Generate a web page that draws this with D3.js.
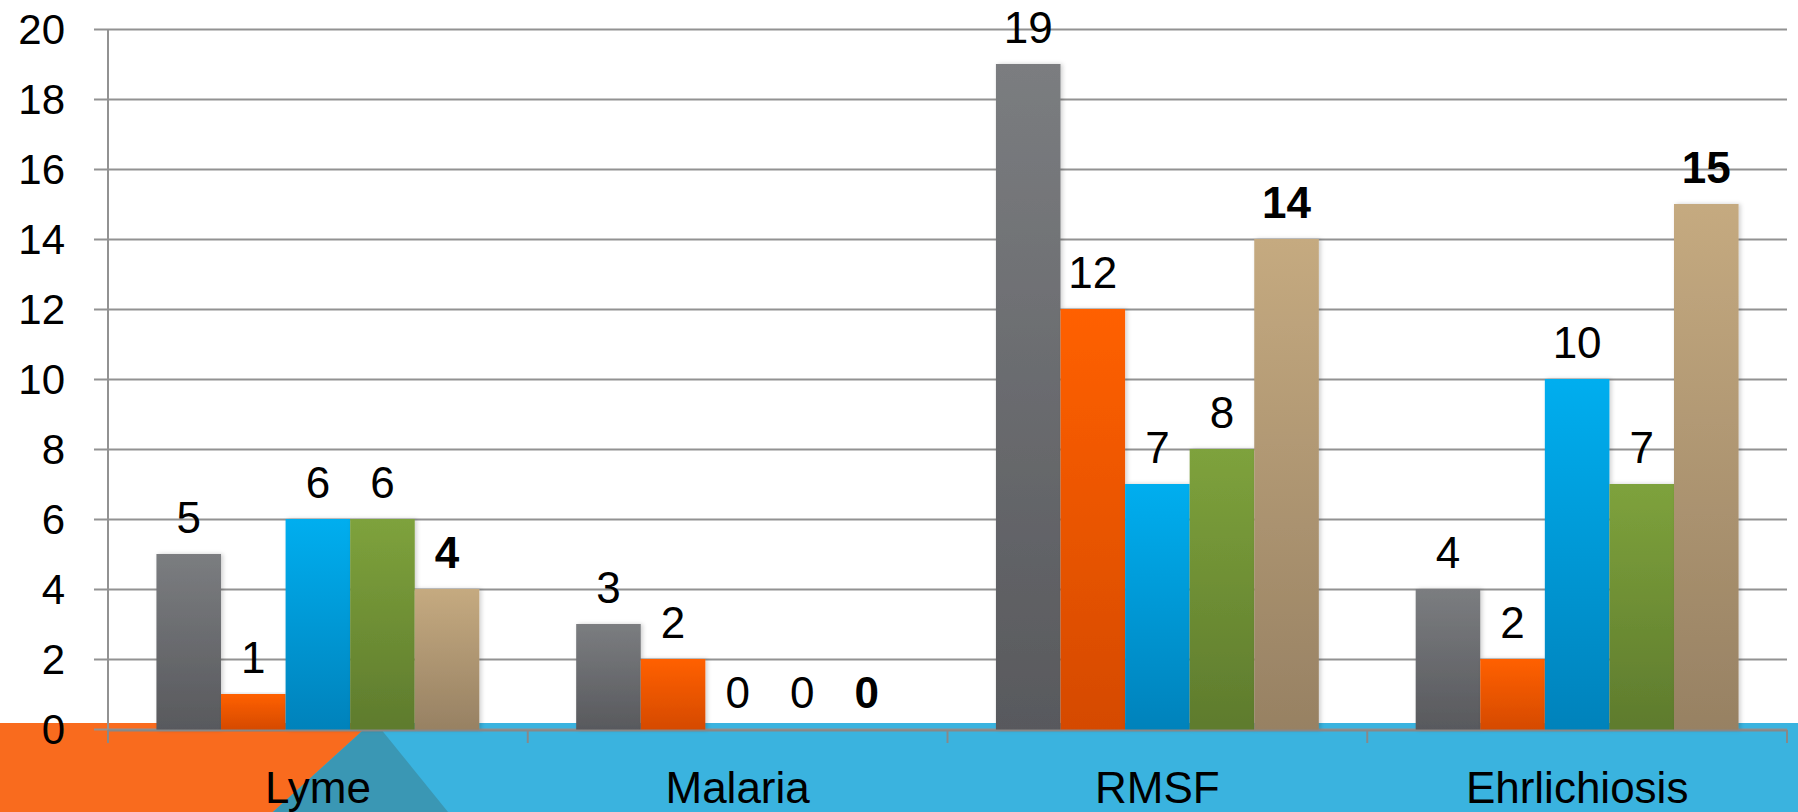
<!DOCTYPE html>
<html>
<head>
<meta charset="utf-8">
<script src="https://cdn.jsdelivr.net/npm/d3@7"></script>
<style>
  html, body { margin: 0; padding: 0; background: #fff; }
  svg { display: block; font-family: "Liberation Sans", Arial, sans-serif; }
</style>
</head>
<body>
<div id="chart"></div>
<script>
var categories = ["Lyme", "Malaria", "RMSF", "Ehrlichiosis"];
var seriesNames = ["s1", "s2", "s3", "s4", "s5"];
var s1 = [5, 3, 19, 4];
var s2 = [1, 2, 12, 2];
var s3 = [6, 0, 7, 10];
var s4 = [6, 0, 8, 7];
var s5 = [4, 0, 14, 15];
var yTicks = [0, 2, 4, 6, 8, 10, 12, 14, 16, 18, 20];

var seriesValues = [s1, s2, s3, s4, s5];
var colors = [
  ["#7b7d80", "#58595d"],
  ["#ff6000", "#d54a00"],
  ["#00aeef", "#0082bb"],
  ["#7ea23c", "#5e7b2d"],
  ["#c5aa80", "#978163"]
];
var boldLabel = [false, false, false, false, true];

var width = 1798, height = 812,
    plotLeft = 108, plotRight = 1787, plotTop = 29, plotBottom = 729;

var svg = d3.select("#chart").append("svg")
  .attr("width", width)
  .attr("height", height);

var defs = svg.append("defs");
colors.forEach(function (c, i) {
  var g = defs.append("linearGradient")
    .attr("id", "grad" + i)
    .attr("x1", 0).attr("y1", 0).attr("x2", 0).attr("y2", 1);
  g.append("stop").attr("offset", "0%").attr("stop-color", c[0]);
  g.append("stop").attr("offset", "100%").attr("stop-color", c[1]);
});
var shadow = defs.append("filter").attr("id", "shadow")
  .attr("x", "-20%").attr("y", "-5%").attr("width", "140%").attr("height", "110%");
shadow.append("feDropShadow")
  .attr("dx", 2).attr("dy", 0).attr("stdDeviation", 2)
  .attr("flood-color", "#000").attr("flood-opacity", 0.18);

// slide decoration at the bottom
svg.append("rect")
  .attr("x", 0).attr("y", 723).attr("width", width).attr("height", height - 723)
  .style("fill", "#3ab3df");
svg.append("polygon")
  .attr("points", "0,723 371,723 273,812 0,812")
  .style("fill", "#f96b1e");
svg.append("polygon")
  .attr("points", "371,723 376,723 448,812 273,812")
  .style("fill", "#3a97b4");

var x0 = d3.scaleBand().domain(categories).range([plotLeft, plotRight]).padding(0);
var x1 = d3.scaleBand().domain(seriesNames).range([0, x0.bandwidth()])
  .paddingInner(0).paddingOuter(0.75);
var y = d3.scaleLinear().domain([0, 20]).range([plotBottom, plotTop]);

// gridlines + y axis
var yAxis = d3.axisLeft(y).tickValues(yTicks)
  .tickSize(-(plotRight - plotLeft)).tickSizeOuter(0).tickPadding(0)
  .tickFormat(d3.format("d"));
var gy = svg.append("g")
  .attr("transform", "translate(" + plotLeft + ",0)")
  .call(yAxis);
gy.select(".domain").remove();
gy.selectAll(".tick line")
  .attr("x1", -14)
  .style("stroke", "#929292").style("stroke-width", 2);
gy.selectAll(".tick text")
  .attr("x", -43).attr("dy", "0.35em")
  .style("font-size", "42px").style("font-family", "'Liberation Sans', Arial, sans-serif")
  .style("fill", "#000");
svg.append("line")
  .attr("x1", plotLeft).attr("x2", plotLeft).attr("y1", plotTop).attr("y2", plotBottom + 14)
  .style("stroke", "#929292").style("stroke-width", 2);

// bars
var groups = svg.selectAll(".cat")
  .data(categories)
  .enter().append("g")
  .attr("class", "cat")
  .attr("transform", function (d) { return "translate(" + x0(d) + ",0)"; });

function rows(d, ci) {
  return seriesNames.map(function (s, si) { return { s: s, si: si, v: seriesValues[si][ci] }; });
}

groups.selectAll("rect")
  .data(function (d, ci) { return rows(d, ci).filter(function (r) { return r.v > 0; }); })
  .enter().append("rect")
  .attr("x", function (d) { return x1(d.s); })
  .attr("y", function (d) { return y(d.v); })
  .attr("width", x1.bandwidth())
  .attr("height", function (d) { return y(0) - y(d.v) + 1; })
  .attr("filter", "url(#shadow)")
  .style("fill", function (d) { return "url(#grad" + d.si + ")"; });

groups.selectAll("text")
  .data(rows)
  .enter().append("text")
  .attr("x", function (d) { return x1(d.s) + x1.bandwidth() / 2; })
  .attr("y", function (d) { return y(d.v) - 21; })
  .attr("text-anchor", "middle")
  .style("font-size", "44px")
  .style("font-weight", function (d) { return boldLabel[d.si] ? "bold" : "normal"; })
  .style("fill", "#000")
  .text(function (d) { return d.v; });

// x axis
var xAxis = d3.axisBottom(x0).tickSize(0).tickSizeOuter(0).tickPadding(0);
var gx = svg.append("g")
  .attr("transform", "translate(0," + (plotBottom + 1) + ")")
  .call(xAxis);
gx.select(".domain").style("stroke", "#888").style("stroke-width", 2);
gx.selectAll(".tick text")
  .attr("y", 73).attr("dy", 0)
  .style("font-size", "44px").style("font-family", "'Liberation Sans', Arial, sans-serif")
  .style("fill", "#000");

svg.selectAll(".cat-tick")
  .data(categories.concat(["end"]))
  .enter().append("line")
  .attr("class", "cat-tick")
  .attr("x1", function (d, i) { return i < categories.length ? x0(d) : plotRight; })
  .attr("x2", function (d, i) { return i < categories.length ? x0(d) : plotRight; })
  .attr("y1", plotBottom + 1).attr("y2", plotBottom + 14)
  .style("stroke", "#888").style("stroke-width", 2);
</script>
</body>
</html>
